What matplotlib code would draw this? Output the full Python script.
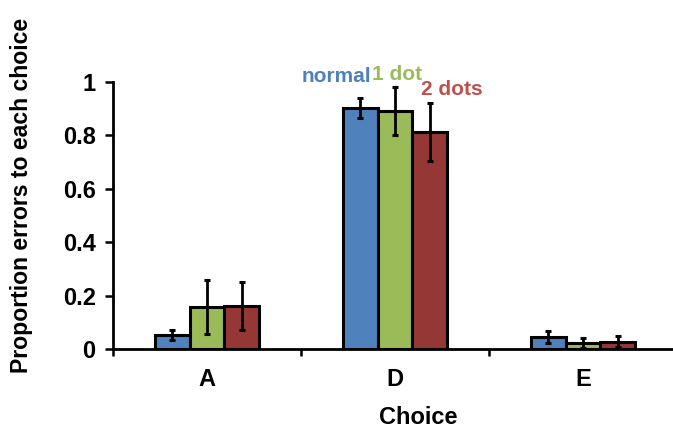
import matplotlib.pyplot as plt
import numpy as np

plt.rcParams['font.family'] = ['Liberation Sans', 'DejaVu Sans']
plt.rcParams['font.weight'] = 'bold'

# Proportion of errors per choice, with error bar half-widths
choices = ['A', 'D', 'E']
series = ['normal', '1 dot', '2 dots']
normal = [0.052, 0.903, 0.045]
one_dot = [0.157, 0.893, 0.022]
two_dots = [0.161, 0.812, 0.028]
normal_err = [0.020, 0.037, 0.022]
one_dot_err = [0.100, 0.090, 0.018]
two_dots_err = [0.090, 0.108, 0.020]

bar_colors = ['#4F81BD', '#9BBB59', '#953735']
text_colors = ['#4F81BD', '#9BBB59', '#C0504D']

fig = plt.figure(figsize=(6.73, 4.29), dpi=100)
ax = fig.add_axes([113 / 673, 80 / 429, 564 / 673, 267 / 429])

x = np.arange(len(choices))
w = 0.185
for i, (vals, errs) in enumerate([(normal, normal_err),
                                  (one_dot, one_dot_err),
                                  (two_dots, two_dots_err)]):
    ax.bar(x + (i - 1) * w, vals, width=w, color=bar_colors[i],
           edgecolor='black', linewidth=2.2, zorder=2)
    ax.errorbar(x + (i - 1) * w, vals, yerr=errs, fmt='none',
                ecolor='black', elinewidth=2, capsize=2.5, capthick=2.2,
                zorder=3)

ax.set_xlim(-0.5, 2.5)
ax.set_ylim(0, 1)
ax.set_yticks([0, 0.2, 0.4, 0.6, 0.8, 1])
ax.set_yticklabels(['0', '0.2', '0.4', '0.6', '0.8', '1'])
ax.set_xticks(x)
ax.set_xticklabels(choices)
ax.set_xticks([-0.5, 0.5, 1.5, 2.5], minor=True)
ax.tick_params(axis='x', which='major', length=0, pad=14, labelsize=17)
ax.tick_params(axis='x', which='minor', length=5, width=1.8, direction='out')
ax.tick_params(axis='y', length=6, width=1.8, direction='out', pad=6.5,
               labelsize=17)

for side in ['top', 'right']:
    ax.spines[side].set_visible(False)
for side in ['left', 'bottom']:
    ax.spines[side].set_linewidth(2)

# Axis titles
fig.text(418 / 673, 1 - 417 / 429, 'Choice', fontsize=17,
         fontweight='bold', ha='center', va='center')
fig.text(22 / 673, 1 - 195 / 429, 'Proportion errors to each choice',
         fontsize=16.6, fontweight='bold', ha='center', va='center',
         rotation=90)

# Series names written in their own colours above the middle group
fig.text(302 / 673, 1 - 82 / 429, series[0], color=text_colors[0],
         fontsize=15, fontweight='bold', ha='left', va='baseline')
fig.text(372 / 673, 1 - 80 / 429, series[1], color=text_colors[1],
         fontsize=15, fontweight='bold', ha='left', va='baseline')
fig.text(421 / 673, 1 - 95 / 429, series[2], color=text_colors[2],
         fontsize=15, fontweight='bold', ha='left', va='baseline')

fig.savefig('out.png', dpi=100)
